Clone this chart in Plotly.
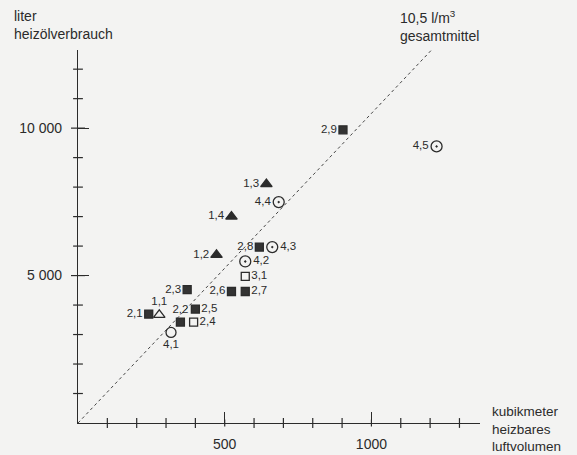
import plotly.graph_objects as go

# ---- data ----
tri_filled_lbl = ["1,2", "1,3", "1,4"]
tri_filled_x = [472, 642, 523]
tri_filled_y = [5700, 8100, 7000]
tri_filled_pos = ["middle left", "middle left", "middle left"]

tri_open_lbl = ["1,1"]
tri_open_x = [277]
tri_open_y = [3670]
tri_open_pos = ["top center"]

sq_filled_lbl = ["2,1", "2,2", "2,3", "2,5", "2,6", "2,7", "2,8", "2,9"]
sq_filled_x = [241, 349, 372, 400, 523, 570, 618, 903]
sq_filled_y = [3695, 3424, 4520, 3865, 4460, 4460, 5966, 9943]
sq_filled_pos = ["middle left", "top center", "middle left", "middle right",
                 "middle left", "middle right", "middle left", "middle left"]

sq_open_lbl = ["2,4", "3,1"]
sq_open_x = [394, 570]
sq_open_y = [3424, 4970]
sq_open_pos = ["middle right", "middle right"]

circ_dot_lbl = ["4,2", "4,3", "4,4", "4,5"]
circ_dot_x = [570, 662, 684, 1222]
circ_dot_y = [5478, 5966, 7492, 9380]
circ_dot_pos = ["middle right", "middle right", "middle left", "middle left"]

circ_open_lbl = ["4,1"]
circ_open_x = [317]
circ_open_y = [3071]
circ_open_pos = ["bottom center"]

mean_rate = 10.5          # l/m3 gesamtmittel
mean_line_x = [0, 1205]

x_major = [500, 1000]
x_major_text = ["500", "1000"]
x_minor = [100, 200, 300, 400, 600, 700, 800, 900, 1100, 1200, 1300]
y_major = [5000, 10000]
y_major_text = ["5 000", "10 000"]
y_minor = [1000, 2000, 3000, 4000, 6000, 7000, 8000, 9000, 11000, 12000]

INK = "#2b2b2b"
BG = "#f3f3f2"
FONT = "Liberation Sans, Arial, sans-serif"

fig = go.Figure()

# mean line
fig.add_trace(go.Scatter(
    x=mean_line_x, y=[mean_rate * v for v in mean_line_x],
    mode="lines", line=dict(color="#444444", width=1, dash="dot"),
    hoverinfo="skip", showlegend=False))


def tick_marks(xs, ys, symbol, size):
    fig.add_trace(go.Scatter(
        x=xs, y=ys, mode="markers",
        marker=dict(symbol=symbol, size=size, color=INK,
                    line=dict(color=INK, width=1.2)),
        cliponaxis=False, hoverinfo="skip", showlegend=False))


# minor ticks crossing the axes
tick_marks(x_minor, [0] * len(x_minor), "line-ns-open", 7)
tick_marks(x_major, [0] * len(x_major), "line-ns-open", 5)
tick_marks([0] * len(y_minor), y_minor, "line-ew-open", 7)
tick_marks([0] * len(y_major), y_major, "line-ew-open", 10)


def add_series(xs, ys, labels, pos, symbol, size, fill, lw=1.3):
    fig.add_trace(go.Scatter(
        x=xs, y=ys, text=labels, textposition=pos, mode="markers+text",
        marker=dict(symbol=symbol, size=size, color=fill,
                    line=dict(color=INK, width=lw)),
        textfont=dict(family=FONT, size=11.5, color=INK),
        cliponaxis=False, showlegend=False))


add_series(tri_filled_x, tri_filled_y, tri_filled_lbl, tri_filled_pos,
           "triangle-up", 10, INK)
add_series(tri_open_x, tri_open_y, tri_open_lbl, tri_open_pos,
           "triangle-up-open", 10, INK)
add_series(sq_filled_x, sq_filled_y, sq_filled_lbl, sq_filled_pos,
           "square", 8, "#333333")
add_series(sq_open_x, sq_open_y, sq_open_lbl, sq_open_pos,
           "square-open", 8, INK)
add_series(circ_dot_x, circ_dot_y, circ_dot_lbl, circ_dot_pos,
           "circle-open-dot", 11, INK)
add_series(circ_open_x, circ_open_y, circ_open_lbl, circ_open_pos,
           "circle-open", 10, INK)

axis_font = dict(family=FONT, size=14, color=INK)

fig.update_layout(
    width=577, height=455,
    margin=dict(l=78, r=97, t=50, b=32, autoexpand=False),
    paper_bgcolor=BG, plot_bgcolor=BG,
    font=dict(family=FONT, color=INK),
    xaxis=dict(range=[0, 1370], showgrid=False, zeroline=False,
               automargin=False,
               showline=True, linecolor=INK, linewidth=1.3,
               ticks="inside", ticklen=11, tickwidth=1.2, tickcolor=INK,
               tickvals=x_major, ticktext=x_major_text,
               ticklabelstandoff=8, tickfont=axis_font),
    yaxis=dict(range=[0, 12650], showgrid=False, zeroline=False,
               automargin=False,
               showline=True, linecolor=INK, linewidth=1.3,
               ticks="inside", ticklen=11, tickwidth=1.2, tickcolor=INK,
               tickvals=y_major, ticktext=y_major_text,
               ticklabelstandoff=12, tickfont=axis_font),
    annotations=[
        dict(xref="paper", yref="paper", x=0, y=1,
             xanchor="left", yanchor="top", align="left", showarrow=False,
             text="liter<br>heizölverbrauch", font=axis_font,
             xshift=-66, yshift=44),
        dict(xref="paper", yref="paper", x=1, y=0, xanchor="left",
             yanchor="middle", align="left", showarrow=False,
             text="kubikmeter<br>heizbares<br>luftvolumen",
             font=dict(family=FONT, size=13.5, color=INK),
             xshift=10, yshift=-6),
        dict(xref="paper", yref="paper", x=1, y=1, xanchor="left",
             yanchor="bottom", align="left", showarrow=False,
             text="10,5 l/m<sup>3</sup><br>gesamtmittel",
             font=dict(family=FONT, size=14, color=INK),
             xshift=-82, yshift=4),
    ],
)

fig.write_html(
    "out.html",
    config={"displayModeBar": False},
    post_script=("document.body.style.margin='0';"
                 "document.body.style.overflow='hidden';"
                 "document.body.style.background='" + BG + "';"),
)
